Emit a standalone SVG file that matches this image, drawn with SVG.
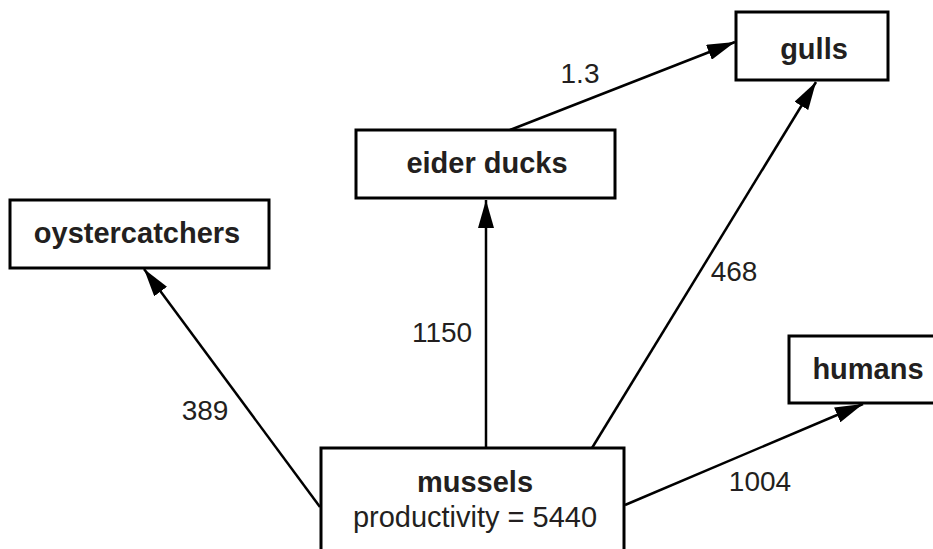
<svg xmlns="http://www.w3.org/2000/svg" width="933" height="549" viewBox="0 0 933 549">
<style>
.box{fill:#fff;stroke:#000;stroke-width:3}
.lbl{font-family:"Liberation Sans",Arial,sans-serif;font-size:29px;font-weight:bold;fill:#231f20;text-anchor:middle}
.reg{font-family:"Liberation Sans",Arial,sans-serif;font-size:29px;fill:#231f20;text-anchor:middle}
.edge{stroke:#000;stroke-width:2.5;fill:none;marker-end:url(#ah)}
.el{font-family:"Liberation Sans",Arial,sans-serif;font-size:28px;fill:#231f20;text-anchor:middle}
</style>
<defs>
<marker id="ah" markerUnits="userSpaceOnUse" markerWidth="28" markerHeight="16" refX="28" refY="8" orient="auto" viewBox="0 0 28 16">
<path d="M0,0 L28,8 L0,16 z" fill="#000"/>
</marker>
</defs>
<rect width="933" height="549" fill="#fff"/>
<g id="connectors">
<line class="edge" x1="320" y1="507" x2="144" y2="269"/>
<line class="edge" x1="486" y1="448" x2="486" y2="200"/>
<line class="edge" x1="592" y1="448" x2="816" y2="82"/>
<line class="edge" x1="625" y1="505" x2="863" y2="404"/>
<line class="edge" x1="510" y1="130" x2="735" y2="42"/>
<text class="el" x="205" y="420">389</text>
<text class="el" x="442" y="342">1150</text>
<text class="el" x="734" y="281">468</text>
<text class="el" x="760" y="491">1004</text>
<text class="el" x="580" y="83">1.3</text>
</g>
<g id="oystercatchers">
<rect class="box" x="10" y="200" width="259" height="68"/>
<text class="lbl" x="137" y="243">oystercatchers</text>
</g>
<g id="eider-ducks">
<rect class="box" x="356" y="130" width="259" height="68"/>
<text class="lbl" x="487" y="173">eider ducks</text>
</g>
<g id="gulls">
<rect class="box" x="736" y="12" width="152" height="68"/>
<text class="lbl" x="814" y="59">gulls</text>
</g>
<g id="humans">
<rect class="box" x="789" y="336" width="160" height="67"/>
<text class="lbl" x="868" y="379">humans</text>
</g>
<g id="mussels">
<rect class="box" x="321" y="448" width="303" height="120"/>
<text class="lbl" x="475" y="492">mussels</text>
<text class="reg" x="475" y="527">productivity = 5440</text>
</g>
</svg>
